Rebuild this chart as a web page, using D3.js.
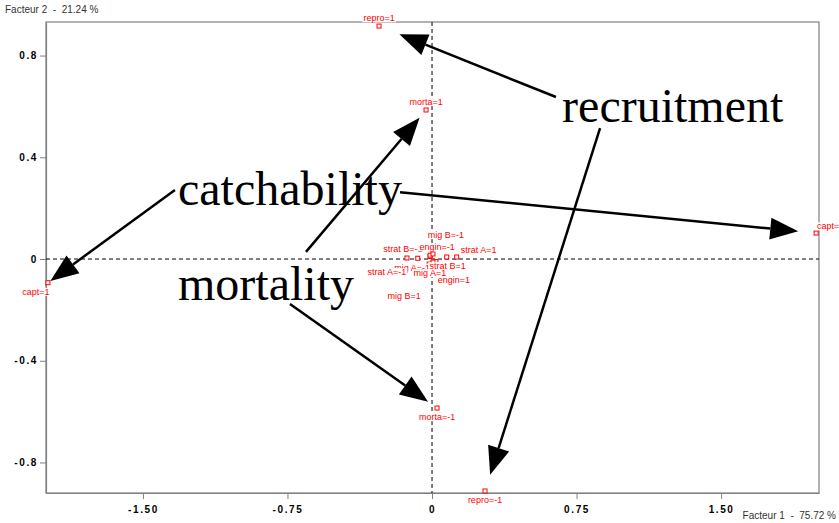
<!DOCTYPE html>
<html>
<head>
<meta charset="utf-8">
<script src="https://cdn.jsdelivr.net/npm/d3@7"></script>
<style>
  body { margin: 0; background: #fff; }
  svg { display: block; }
  .tick text { font-family: "Liberation Sans", Arial, sans-serif; font-weight: bold; font-size: 10px; letter-spacing: 1.6px; fill: #000; }
</style>
</head>
<body>
<div class="container"></div>
<script>
// modalities of the correspondence analysis, in drawing order
var modalities = ['mig A=-1', 'repro=1', 'morta=1', 'capt=-1', 'capt=1', 'morta=-1', 'repro=-1',
                  'strat A=1', 'strat A=-1', 'strat B=1', 'strat B=-1', 'engin=1', 'engin=-1',
                  'mig A=1', 'mig B=1', 'mig B=-1'];
var facteur1 = [-0.01, -0.275, -0.031, 1.993, -1.993, 0.026, 0.275,
                0.128, -0.13, 0.076, -0.074, 0.02, -0.01,
                0.005, -0.015, 0.005];
var facteur2 = [0.01, 0.916, 0.586, 0.102, -0.093, -0.586, -0.912,
                0.008, 0.004, 0.008, 0.003, -0.01, 0.015,
                -0.012, -0.02, 0.02];

// label placement (px from the point)
var labelDx = [-18, 0, 0, 16, -12, 0, 0, 22, -20, 1, -15, 18, 7, -3, -25, 13];
var labelDy = [11, -8, -8, -7, 9, 9, 9, -7, 14, 9, -9, 18, -8, 11, 32, -19];

var xTicks = [-1.5, -0.75, 0, 0.75, 1.5];
var xTickLabels = ['-1.50', '-0.75', '0', '0.75', '1.50'];
var yTicks = [0.8, 0.4, 0, -0.4, -0.8];
var yTickLabels = ['0.8', '0.4', '0', '-0.4', '-0.8'];

var xTitle = 'Facteur 1  -  75.72 %';
var yTitle = 'Facteur 2  -  21.24 %';

// annotations
var annTexts = ['recruitment', 'catchability', 'mortality'];
var annX = [0.675, -1.318, -1.318];
var annY = [0.539, 0.212, -0.161];

var arrowFromX = [0.643, 0.872, -0.166, -1.334, -0.654, -0.737];
var arrowFromY = [0.637, 0.515, 0.263, 0.271, 0.028, -0.177];
var arrowTo = ['repro=1', 'repro=-1', 'capt=-1', 'capt=1', 'morta=1', 'morta=-1'];
var arrowGap = [22, 17, 18, 3, 10, 11];

var width = 839, height = 523;
var plotLeft = 46, plotRight = 819, plotTop = 22, plotBottom = 493;

var svgContainer = d3.select('.container')
    .append('svg')
        .attr('width', width)
        .attr('height', height);

var x = d3.scaleLinear().domain([-2.003, 2.008]).range([plotLeft, plotRight]);
var y = d3.scaleLinear().domain([-0.92, 0.932]).range([plotBottom, plotTop]);

// frame
svgContainer.append('rect')
    .attr('x', plotLeft).attr('y', plotTop)
    .attr('width', plotRight - plotLeft).attr('height', plotBottom - plotTop)
    .style('fill', 'none')
    .style('stroke', '#808080')
    .style('stroke-width', 1.2);

// axes
var xAxis = svgContainer.append('g')
    .attr('transform', 'translate(0,' + plotBottom + ')')
    .call(d3.axisBottom(x).tickValues(xTicks).tickSize(6).tickSizeOuter(0)
        .tickFormat(function(d, i) { return xTickLabels[i]; }));

var yAxis = svgContainer.append('g')
    .attr('transform', 'translate(' + plotLeft + ',0)')
    .call(d3.axisLeft(y).tickValues(yTicks).tickSize(6).tickSizeOuter(0)
        .tickFormat(function(d, i) { return yTickLabels[i]; }));

svgContainer.selectAll('.domain').style('stroke', '#808080').style('stroke-width', 1.2);
svgContainer.selectAll('.tick line').style('stroke', '#808080');
xAxis.selectAll('.tick text').attr('dy', '1.05em');
yAxis.selectAll('.tick text').attr('x', -8);

// zero lines
svgContainer.append('line')
    .attr('x1', x(0)).attr('x2', x(0))
    .attr('y1', plotTop).attr('y2', plotBottom)
    .style('stroke', '#000')
    .style('stroke-dasharray', '4,3');

svgContainer.append('line')
    .attr('x1', plotLeft).attr('x2', plotRight)
    .attr('y1', y(0)).attr('y2', y(0))
    .style('stroke', '#000')
    .style('stroke-dasharray', '4,3');

// axis titles
svgContainer.append('text')
    .attr('x', 5).attr('y', 13)
    .style('white-space', 'pre')
    .style('font-family', '"Liberation Sans", Arial, sans-serif')
    .style('font-size', '10px')
    .style('fill', '#333')
    .text(yTitle);

svgContainer.append('text')
    .attr('x', 836).attr('y', 519)
    .attr('text-anchor', 'end')
    .style('white-space', 'pre')
    .style('font-family', '"Liberation Sans", Arial, sans-serif')
    .style('font-size', '10px')
    .style('fill', '#333')
    .text(xTitle);

// points and labels
var points = modalities.map(function(m, i) {
    return { name: m, fx: facteur1[i], fy: facteur2[i], dx: labelDx[i], dy: labelDy[i] };
});

svgContainer.selectAll('.pt')
    .data(points)
    .enter()
    .append('rect')
        .attr('class', 'pt')
        .attr('x', function(d) { return x(d.fx) - 2; })
        .attr('y', function(d) { return y(d.fy) - 2; })
        .attr('width', 4)
        .attr('height', 4)
        .style('fill', '#fff')
        .style('stroke', '#f00')
        .style('stroke-width', 1);

var labelGroups = svgContainer.selectAll('.lab')
    .data(points)
    .enter()
    .append('g')
        .attr('class', 'lab')
        .attr('transform', function(d) {
            return 'translate(' + (x(d.fx) + d.dx) + ',' + (y(d.fy) + d.dy) + ')';
        });

labelGroups.append('text')
    .attr('text-anchor', 'middle')
    .attr('dy', '0.35em')
    .style('font-family', '"Liberation Sans", Arial, sans-serif')
    .style('font-size', '9px')
    .style('fill', '#f00')
    .text(function(d) { return d.name; });

labelGroups.each(function() {
    var g = d3.select(this);
    var bb = g.select('text').node().getBBox();
    g.insert('rect', 'text')
        .attr('x', bb.x - 1).attr('y', bb.y + 1)
        .attr('width', bb.width + 2).attr('height', bb.height - 2)
        .style('fill', '#fff');
});

// arrows
var byName = {};
points.forEach(function(p) { byName[p.name] = p; });

arrowTo.forEach(function(name, i) {
    var p = byName[name];
    var x0 = x(arrowFromX[i]), y0 = y(arrowFromY[i]);
    var tx = x(p.fx), ty = y(p.fy);
    var len = Math.sqrt((tx - x0) * (tx - x0) + (ty - y0) * (ty - y0));
    var ux = (tx - x0) / len, uy = (ty - y0) / len;
    var x1 = tx - ux * arrowGap[i], y1 = ty - uy * arrowGap[i];
    var headLen = 28, headW = 11;
    var bx = x1 - ux * headLen, by = y1 - uy * headLen;

    svgContainer.append('line')
        .attr('x1', x0).attr('y1', y0)
        .attr('x2', bx).attr('y2', by)
        .style('stroke', '#000')
        .style('stroke-width', 2.5);

    svgContainer.append('polygon')
        .attr('points', [
            [x1, y1],
            [bx - uy * headW, by + ux * headW],
            [bx + uy * headW, by - ux * headW]
        ].map(function(p) { return p.join(','); }).join(' '))
        .style('fill', '#000');
});

// annotation words
svgContainer.selectAll('.ann')
    .data(annTexts)
    .enter()
    .append('text')
        .attr('class', 'ann')
        .attr('x', function(d, i) { return x(annX[i]); })
        .attr('y', function(d, i) { return y(annY[i]); })
        .style('font-family', '"Liberation Serif", "Times New Roman", serif')
        .style('font-size', '48px')
        .style('fill', '#000')
        .text(function(d) { return d; });
</script>
</body>
</html>
